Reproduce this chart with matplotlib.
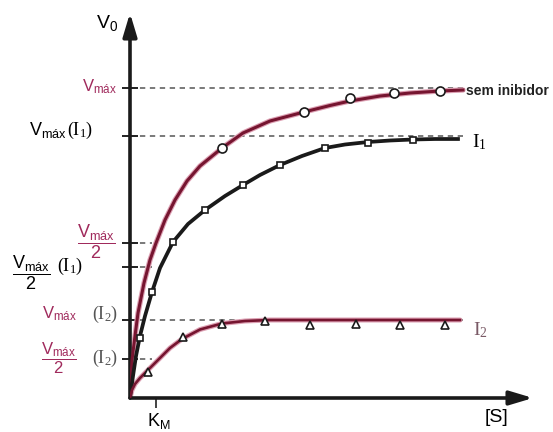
"""
Curvas de Michaelis-Menten: sem inibidor, com inibidor I1 e com inibidor I2.
Esquema desenhado em coordenadas de 1 unidade = 1 pixel.
"""

import matplotlib
matplotlib.use("Agg")
import matplotlib.pyplot as plt

# == Dados ==

# niveis de velocidade maxima e Km
vmax = 310
vmax_i1 = 262
vmax_i2 = 78
km = 26

# curva sem inibidor
s_livre = [0, 2, 5, 8, 14, 20, 26, 35, 45, 57, 70, 92, 113, 140, 174, 200, 220, 250, 280, 310, 333]
v_livre = [0, 38, 62, 85, 115, 138, 155, 178, 198, 217, 232, 250, 265, 277, 286, 292.5, 297, 302, 305, 307, 308]
s_livre_pts = [92, 174, 220, 264, 310]
v_livre_pts = [250, 286, 300, 305, 307]

# curva com I1
s_i1 = [0, 3, 6, 10, 15, 22, 30, 43, 58, 75, 95, 113, 130, 150, 172, 195, 215, 238, 260, 283, 305, 328]
v_i1 = [0, 22, 42, 62, 82, 106, 130, 156, 174, 188, 202, 213, 223, 233, 242, 250, 253.5, 256, 257.5, 258.5, 259, 259]
s_i1_pts = [10, 22, 43, 75, 113, 150, 195, 238, 283]
v_i1_pts = [60, 106, 156, 188, 213, 233, 250, 255, 258]

# curva com I2
s_i2 = [0, 2, 5, 10, 18, 30, 40, 52, 70, 92, 115, 140, 180, 330]
v_i2 = [0, 8, 14, 20, 28, 40, 50, 59, 68.5, 74.5, 77, 78, 78, 78]
s_i2_pts = [18, 53, 92, 135, 180, 226, 270, 315]
v_i2_pts = [26, 61, 74, 77, 73, 74, 73, 73]

# == Estilo ==
plt.rcParams["font.family"] = ["Liberation Sans", "DejaVu Sans"]
ROXO = "#a02a5c"
VINHO = "#761530"
HALO = "#dc9fb2"
CINZA = "#555555"

fig = plt.figure(figsize=(5.53, 4.32), dpi=100)
ax = fig.add_axes([130 / 553, 34 / 432, 403 / 553, 385 / 432])
ax.set_xlim(0, 403)
ax.set_ylim(0, 385)
for sp in ax.spines.values():
    sp.set_visible(False)

# eixos com setas
seta = dict(arrowstyle="-|>,head_length=1.0,head_width=0.3", lw=2.6,
            color="#1a1a1a", mutation_scale=14, shrinkA=0, shrinkB=0)
ax.annotate("", xy=(1, 0), xytext=(0, 0), xycoords="axes fraction", arrowprops=seta)
ax.annotate("", xy=(0, 1), xytext=(0, 0), xycoords="axes fraction", arrowprops=seta)

# ticks
ax.set_yticks([vmax, vmax_i1, vmax / 2, vmax_i1 / 2, vmax_i2, vmax_i2 / 2])
ax.set_yticklabels([])
ax.tick_params(axis="y", direction="inout", length=11, width=1.4, color="#222")
ax.set_xticks([km])
ax.set_xticklabels([])
ax.tick_params(axis="x", direction="out", length=7, width=1.2, color="#222")

# linhas tracejadas
traco = dict(colors=CINZA, linestyles=(0, (3.5, 3)), lw=1.1, zorder=1)
ax.hlines([vmax, vmax_i1, vmax_i2], 0, 333, **traco)
ax.hlines([vmax / 2, vmax_i1 / 2, vmax_i2 / 2], 0, 22, **traco)

# curvas
ax.plot(s_livre, v_livre, color=HALO, lw=3.8, solid_capstyle="round", zorder=2)
ax.plot(s_livre, v_livre, color=VINHO, lw=2.2, zorder=3)
ax.plot(s_i1, v_i1, color="#1a1a1a", lw=2.7, zorder=3)
ax.plot(s_i2, v_i2, color=HALO, lw=3.6, solid_capstyle="round", zorder=2)
ax.plot(s_i2, v_i2, color=VINHO, lw=1.9, zorder=3)

mk = dict(ls="none", mfc="white", mec="#1a1a1a", mew=1.2, zorder=4)
ax.plot(s_livre_pts, v_livre_pts, marker="o", ms=6.5, **mk)
ax.plot(s_i1_pts, v_i1_pts, marker="s", ms=5, **mk)
ax.plot(s_i2_pts, v_i2_pts, marker="^", ms=6, **mk)

# rotulos do eixo y
serif = "Liberation Serif"
ax.text(-23, 375, r"$\mathregular{V_0}$", fontsize=14, ha="center", va="center")
ax.text(-13, vmax + 1, r"$\mathregular{V_{máx}}$", fontsize=12, color=ROXO, ha="right", va="center")
ax.text(-63, vmax_i1 + 6, r"$\mathregular{V_{máx}}$", fontsize=13, ha="right", va="center")
ax.text(-37, vmax_i1 + 6, r"$\mathregular{(I_1)}$", fontsize=13, ha="right", va="center", family=serif)
ax.text(-15, vmax / 2 + 1, r"$\mathregular{\dfrac{V_{máx}}{2}}$", fontsize=13, color=ROXO,
        ha="right", va="center")
ax.text(-80, vmax_i1 / 2 - 6, r"$\mathregular{\dfrac{V_{máx}}{2}}$", fontsize=13,
        ha="right", va="center")
ax.text(-47, vmax_i1 / 2 + 1, r"$\mathregular{(I_1)}$", fontsize=13, ha="right", va="center",
        family=serif)
ax.text(-53, vmax_i2 + 6, r"$\mathregular{V_{máx}}$", fontsize=12, color=ROXO, ha="right", va="center")
ax.text(-12, vmax_i2 + 6, r"$\mathregular{(I_2)}$", fontsize=13, color=CINZA, ha="right", va="center",
        family=serif)
ax.text(-53, vmax_i2 / 2 + 1, r"$\mathregular{\dfrac{V_{máx}}{2}}$", fontsize=12, color=ROXO,
        ha="right", va="center")
ax.text(-12, vmax_i2 / 2 + 1, r"$\mathregular{(I_2)}$", fontsize=13, color=CINZA, ha="right", va="center",
        family=serif)

# rotulos das curvas e do eixo x
ax.text(336, vmax - 3, "sem inibidor", fontsize=10, weight="bold", ha="left", va="center", color="#222")
ax.text(342, vmax_i1 - 6, r"$\mathregular{I_1}$", fontsize=14, ha="left", va="center", family=serif)
ax.text(343, vmax_i2 - 10, r"$\mathregular{I_2}$", fontsize=14, ha="left", va="center",
        family=serif, color="#7a5a66")
ax.text(366, -20, "[S]", fontsize=14, ha="center", va="center")
ax.text(17, -13, r"$\mathregular{K_M}$", fontsize=13, ha="left", va="top")

fig.savefig("out.png", dpi=100)
